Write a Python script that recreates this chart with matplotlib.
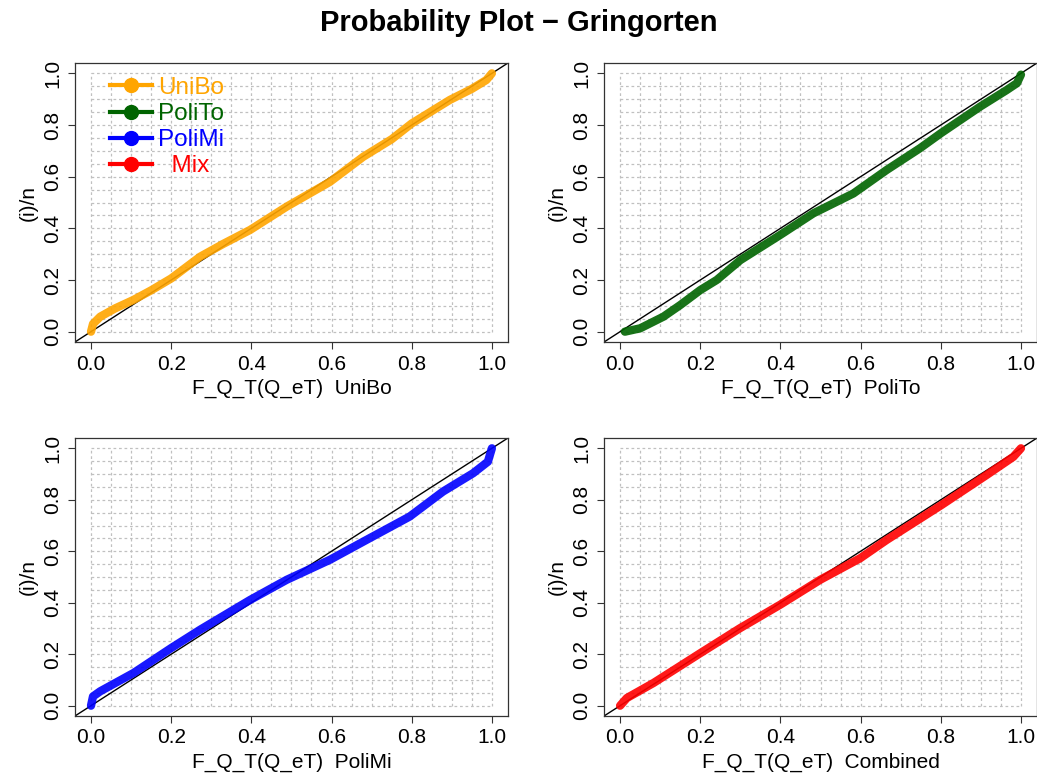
import matplotlib
matplotlib.use("Agg")
import matplotlib.pyplot as plt
from matplotlib.lines import Line2D
import numpy as np

plt.rcParams['font.family'] = ['Liberation Sans', 'DejaVu Sans']

# ---- data ----
unibo_x = [0.0, 0.005, 0.023, 0.06, 0.106, 0.15, 0.2, 0.272, 0.33, 0.397, 0.488, 0.596, 0.679, 0.75, 0.8, 0.895, 0.95, 0.986, 1.0]
unibo_y = [0.0, 0.03, 0.058, 0.09, 0.123, 0.16, 0.206, 0.29, 0.34, 0.394, 0.484, 0.58, 0.677, 0.745, 0.806, 0.897, 0.94, 0.974, 1.0]

polito_x = [0.012, 0.05, 0.108, 0.15, 0.2, 0.241, 0.3, 0.399, 0.482, 0.582, 0.665, 0.748, 0.8, 0.898, 0.964, 0.99, 1.0]
polito_y = [0.0, 0.013, 0.058, 0.103, 0.161, 0.2, 0.277, 0.374, 0.458, 0.535, 0.626, 0.71, 0.768, 0.871, 0.935, 0.962, 0.995]

polimi_x = [0.0, 0.005, 0.023, 0.106, 0.2, 0.272, 0.397, 0.488, 0.596, 0.687, 0.795, 0.878, 0.953, 0.99, 1.0]
polimi_y = [0.0, 0.036, 0.056, 0.127, 0.224, 0.295, 0.411, 0.489, 0.567, 0.644, 0.735, 0.832, 0.903, 0.948, 1.0]

mix_x = [0.0, 0.017, 0.083, 0.2, 0.299, 0.399, 0.499, 0.599, 0.665, 0.802, 0.914, 0.981, 1.0]
mix_y = [0.0, 0.03, 0.088, 0.204, 0.301, 0.392, 0.489, 0.573, 0.644, 0.78, 0.896, 0.967, 1.0]

series_x = [unibo_x, polito_x, polimi_x, mix_x]
series_y = [unibo_y, polito_y, polimi_y, mix_y]
colors = ['#FFA500', '#006400', '#0000FF', '#FF0000']
xlabels = ['F_Q_T(Q_eT)  UniBo', 'F_Q_T(Q_eT)  PoliTo', 'F_Q_T(Q_eT)  PoliMi', 'F_Q_T(Q_eT)  Combined']
legend_labels = ['UniBo', 'PoliTo', 'PoliMi', '  Mix']
ticks = [0.0, 0.2, 0.4, 0.6, 0.8, 1.0]
tick_labels = ['0.0', '0.2', '0.4', '0.6', '0.8', '1.0']

fig = plt.figure(figsize=(10.37, 7.78), dpi=100)
positions = [
    [0.0723, 0.5604, 0.4175, 0.3586],
    [0.5825, 0.5604, 0.4175, 0.3586],
    [0.0723, 0.0797, 0.4175, 0.3573],
    [0.5825, 0.0797, 0.4175, 0.3573],
]

grid = np.round(np.arange(0, 1.0001, 0.05), 2)
lo, hi = 0.04 / 1.08, 1.04 / 1.08

for k in range(4):
    ax = fig.add_axes(positions[k])
    ax.set_xlim(-0.04, 1.04)
    ax.set_ylim(-0.04, 1.04)
    for g in grid:
        ax.axvline(g, ymin=lo, ymax=hi, color='#c0c0c0', lw=0.9, ls=(0, (2.2, 2.2)), zorder=0)
        ax.axhline(g, xmin=lo, xmax=hi, color='#c0c0c0', lw=0.9, ls=(0, (2.2, 2.2)), zorder=0)
    ax.plot([-0.04, 1.04], [-0.04, 1.04], color='black', lw=1.0, zorder=2)
    ax.plot(series_x[k], series_y[k], color=colors[k], lw=6.0, alpha=0.9,
            solid_capstyle='round', solid_joinstyle='round', zorder=3)
    ax.set_xticks(ticks)
    ax.set_xticklabels(tick_labels, fontsize=15)
    ax.set_yticks(ticks)
    ax.set_yticklabels(tick_labels, fontsize=15, rotation=90, va='center')
    ax.tick_params(direction='out', length=5, width=0.8, color='#333333', pad=4)
    ax.set_xlabel(xlabels[k], fontsize=15, labelpad=4)
    ax.set_ylabel('(i)/n', fontsize=15, labelpad=4)
    for s in ax.spines.values():
        s.set_color('#333333')
        s.set_linewidth(0.9)
    if k == 0:
        handles = [Line2D([0], [0], color=c, lw=3, marker='o', markersize=10) for c in colors]
        ax.legend(handles, legend_labels, loc='upper left', bbox_to_anchor=(0.082, 0.95),
                  frameon=False, fontsize=17.5, labelcolor=colors, handlelength=1.72,
                  handletextpad=0.25, labelspacing=0.17, borderaxespad=0.0, borderpad=0.0)

fig.suptitle('Probability Plot \u2212 Gringorten', fontsize=21, fontweight='bold', y=0.988)
fig.savefig('out.png', dpi=100)
